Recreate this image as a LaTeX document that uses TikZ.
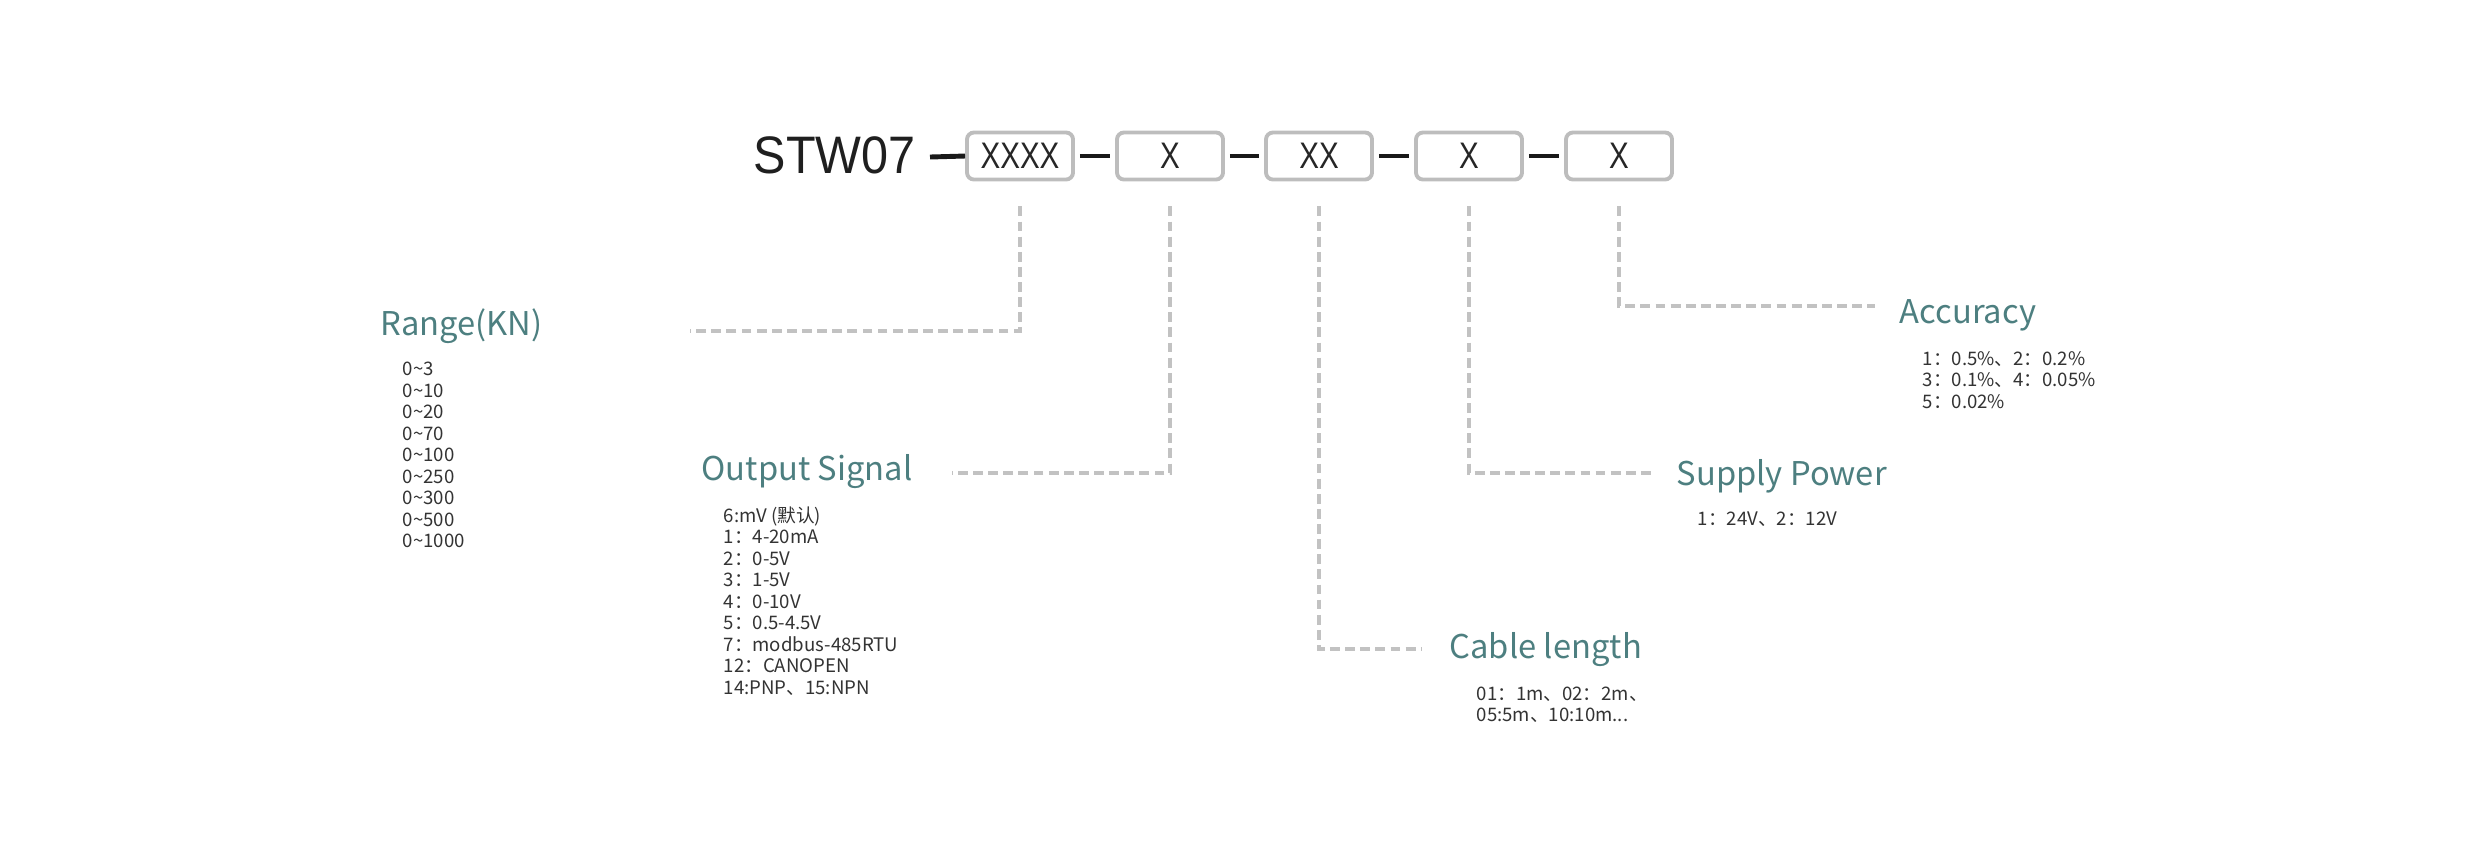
\documentclass[tikz,border=0pt]{standalone}
\usepackage{fontspec}
\setmainfont{Noto Sans CJK SC}
\newfontfamily\narrowf{Liberation Sans}
\begin{document}
\begin{tikzpicture}[x=0.01cm,y=-0.01cm,
  box/.style={draw=boxgray,line width=1.1pt,rounded corners=2pt,minimum width=1.06cm,minimum height=0.47cm,inner sep=0,font=\narrowf\fontsize{10.5pt}{12pt}\selectfont,text=black!85},
  bar/.style={line width=1.4pt,black!90},
  conn/.style={draw=dashgray,line width=1.1pt,dash pattern=on 2.8pt off 1.5pt},
  ttl/.style={anchor=west,inner sep=0,text=teal1,font=\fontsize{9.3pt}{11pt}\selectfont},
  lst/.style={anchor=west,inner sep=0,align=left,text=black!80,font=\fontsize{5.3pt}{6.1pt}\selectfont}]
\definecolor{boxgray}{HTML}{BDBDBD}
\definecolor{dashgray}{HTML}{C2C2C2}
\definecolor{teal1}{HTML}{4D7F80}
\useasboundingbox (0,0) rectangle (2481,859);
\node[anchor=west,inner sep=0,font=\narrowf\fontsize{15pt}{17pt}\selectfont,text=black!88] (stw) at (753,155) {\scalebox{0.92}[1]{STW07}};
\node[box] (b1) at (1020,156) {\scalebox{0.8}[1]{XXXX}};
\node[box] (b2) at (1170,156) {\scalebox{0.8}[1]{X}};
\node[box] (b3) at (1319,156) {\scalebox{0.8}[1]{XX}};
\node[box] (b4) at (1469,156) {\scalebox{0.8}[1]{X}};
\node[box] (b5) at (1619,156) {\scalebox{0.8}[1]{X}};
\draw[bar] (930,157) -- (b1.west);
\draw[bar] ([xshift=-0.06cm]b1.east) ++(0.1cm,0) coordinate (t) ;
\draw[bar] ([xshift=0.05cm]b1.east) -- ([xshift=-0.05cm]b2.west);
\draw[bar] ([xshift=0.05cm]b2.east) -- ([xshift=-0.05cm]b3.west);
\draw[bar] ([xshift=0.05cm]b3.east) -- ([xshift=-0.05cm]b4.west);
\draw[bar] ([xshift=0.05cm]b4.east) -- ([xshift=-0.05cm]b5.west);
% titles
\node[ttl] (rt) at (380,326) {Range(KN)};
\node[ttl] (ot) at (701,472) {Output Signal};
\node[ttl] (ct) at (1449,650) {Cable length};
\node[ttl] (st) at (1676,476) {Supply Power};
\node[ttl] (at) at (1899,315) {Accuracy};
% lists
\node[lst] (rl) at (402,455) {0\textasciitilde3\\0\textasciitilde10\\0\textasciitilde20\\0\textasciitilde70\\0\textasciitilde100\\0\textasciitilde250\\0\textasciitilde300\\0\textasciitilde500\\0\textasciitilde1000};
\node[lst] (ol) at (723,601) {6:mV (默认)\\1：4-20mA\\2：0-5V\\3：1-5V\\4：0-10V\\5：0.5-4.5V\\7：modbus-485RTU\\12：CANOPEN\\14:PNP、15:NPN};
\node[lst] (cl) at (1476,705) {01：1m、02：2m、\\05:5m、10:10m...};
\node[lst] (sl) at (1697,519) {1：24V、2：12V};
\node[lst] (al) at (1922,380) {1：0.5\%、2：0.2\%\\3：0.1\%、4：0.05\%\\5：0.02\%};
% connectors
\coordinate (re) at (690,331);
\coordinate (oe) at (952,473);
\coordinate (ce) at (1422,649);
\coordinate (se) at (1652,473);
\coordinate (ae) at (1875,306);
\draw[conn] ([yshift=-0.25cm]b1.south) |- (re);
\draw[conn] ([yshift=-0.25cm]b2.south) |- (oe);
\draw[conn] ([yshift=-0.25cm]b3.south) |- (ce);
\draw[conn] ([yshift=-0.25cm]b4.south) |- (se);
\draw[conn] ([yshift=-0.25cm]b5.south) |- (ae);
\end{tikzpicture}
\end{document}
